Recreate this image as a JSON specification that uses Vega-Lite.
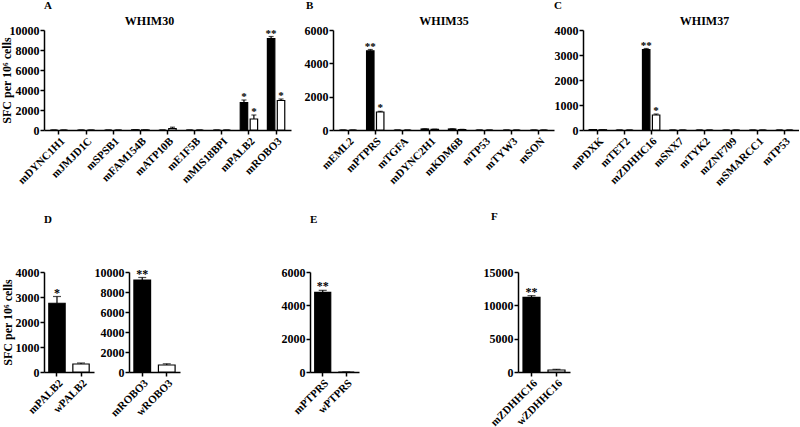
{
  "$schema": "https://vega.github.io/schema/vega-lite/v6.json",
  "background": "white",
  "padding": {"left": 0, "top": 0, "right": 0, "bottom": 0},
  "datasets": {
    "top": [
      {"p": "A", "g": "mDYNC1H1", "s": "black", "v": 0, "hi": 0, "sig": ""},
      {"p": "A", "g": "mDYNC1H1", "s": "white", "v": 0, "hi": 0, "sig": ""},
      {"p": "A", "g": "mJMJD1C", "s": "black", "v": 0, "hi": 0, "sig": ""},
      {"p": "A", "g": "mJMJD1C", "s": "white", "v": 0, "hi": 0, "sig": ""},
      {"p": "A", "g": "mSPSB1", "s": "black", "v": 0, "hi": 0, "sig": ""},
      {"p": "A", "g": "mSPSB1", "s": "white", "v": 0, "hi": 0, "sig": ""},
      {"p": "A", "g": "mFAM154B", "s": "black", "v": 20, "hi": 20, "sig": ""},
      {"p": "A", "g": "mFAM154B", "s": "white", "v": 10, "hi": 10, "sig": ""},
      {"p": "A", "g": "mATP10B", "s": "black", "v": 0, "hi": 0, "sig": ""},
      {"p": "A", "g": "mATP10B", "s": "white", "v": 150, "hi": 280, "sig": ""},
      {"p": "A", "g": "mE1F5B", "s": "black", "v": 0, "hi": 0, "sig": ""},
      {"p": "A", "g": "mE1F5B", "s": "white", "v": 0, "hi": 0, "sig": ""},
      {"p": "A", "g": "mMIS18BPI", "s": "black", "v": 0, "hi": 0, "sig": ""},
      {"p": "A", "g": "mMIS18BPI", "s": "white", "v": 0, "hi": 0, "sig": ""},
      {"p": "A", "g": "mPALB2", "s": "black", "v": 2750, "hi": 3000, "sig": "*"},
      {"p": "A", "g": "mPALB2", "s": "white", "v": 1100, "hi": 1500, "sig": "*"},
      {"p": "A", "g": "mROBO3", "s": "black", "v": 9150, "hi": 9350, "sig": "**"},
      {"p": "A", "g": "mROBO3", "s": "white", "v": 2950, "hi": 3100, "sig": "*"},
      {"p": "B", "g": "mEML2", "s": "black", "v": 0, "hi": 0, "sig": ""},
      {"p": "B", "g": "mEML2", "s": "white", "v": 0, "hi": 0, "sig": ""},
      {"p": "B", "g": "mPTPRS", "s": "black", "v": 4750, "hi": 4830, "sig": "**"},
      {"p": "B", "g": "mPTPRS", "s": "white", "v": 1080, "hi": 1120, "sig": "*"},
      {"p": "B", "g": "mTGFA", "s": "black", "v": 0, "hi": 0, "sig": ""},
      {"p": "B", "g": "mTGFA", "s": "white", "v": 0, "hi": 0, "sig": ""},
      {"p": "B", "g": "mDYNC2H1", "s": "black", "v": 60, "hi": 70, "sig": ""},
      {"p": "B", "g": "mDYNC2H1", "s": "white", "v": 40, "hi": 50, "sig": ""},
      {"p": "B", "g": "mKDM6B", "s": "black", "v": 60, "hi": 70, "sig": ""},
      {"p": "B", "g": "mKDM6B", "s": "white", "v": 30, "hi": 40, "sig": ""},
      {"p": "B", "g": "mTP53", "s": "black", "v": 0, "hi": 0, "sig": ""},
      {"p": "B", "g": "mTP53", "s": "white", "v": 0, "hi": 0, "sig": ""},
      {"p": "B", "g": "mTYW3", "s": "black", "v": 0, "hi": 0, "sig": ""},
      {"p": "B", "g": "mTYW3", "s": "white", "v": 0, "hi": 0, "sig": ""},
      {"p": "B", "g": "mSON", "s": "black", "v": 0, "hi": 0, "sig": ""},
      {"p": "B", "g": "mSON", "s": "white", "v": 0, "hi": 0, "sig": ""},
      {"p": "C", "g": "mPDXK", "s": "black", "v": 15, "hi": 15, "sig": ""},
      {"p": "C", "g": "mPDXK", "s": "white", "v": 10, "hi": 10, "sig": ""},
      {"p": "C", "g": "mTET2", "s": "black", "v": 0, "hi": 0, "sig": ""},
      {"p": "C", "g": "mTET2", "s": "white", "v": 0, "hi": 0, "sig": ""},
      {"p": "C", "g": "mZDHHC16", "s": "black", "v": 3220, "hi": 3260, "sig": "**"},
      {"p": "C", "g": "mZDHHC16", "s": "white", "v": 600, "hi": 640, "sig": "*"},
      {"p": "C", "g": "mSNX7", "s": "black", "v": 0, "hi": 0, "sig": ""},
      {"p": "C", "g": "mSNX7", "s": "white", "v": 0, "hi": 0, "sig": ""},
      {"p": "C", "g": "mTYK2", "s": "black", "v": 0, "hi": 0, "sig": ""},
      {"p": "C", "g": "mTYK2", "s": "white", "v": 0, "hi": 0, "sig": ""},
      {"p": "C", "g": "mZNF709", "s": "black", "v": 0, "hi": 0, "sig": ""},
      {"p": "C", "g": "mZNF709", "s": "white", "v": 0, "hi": 0, "sig": ""},
      {"p": "C", "g": "mSMARCC1", "s": "black", "v": 0, "hi": 0, "sig": ""},
      {"p": "C", "g": "mSMARCC1", "s": "white", "v": 0, "hi": 0, "sig": ""},
      {"p": "C", "g": "mTP53", "s": "black", "v": 0, "hi": 0, "sig": ""},
      {"p": "C", "g": "mTP53", "s": "white", "v": 0, "hi": 0, "sig": ""}
    ],
    "bot": [
      {"p": "Dl", "g": "mPALB2", "s": "black", "v": 2750, "hi": 3020, "sig": "*"},
      {"p": "Dl", "g": "wPALB2", "s": "white", "v": 320, "hi": 360, "sig": ""},
      {"p": "Dr", "g": "mROBO3", "s": "black", "v": 9200, "hi": 9450, "sig": "**"},
      {"p": "Dr", "g": "wROBO3", "s": "white", "v": 700, "hi": 820, "sig": ""},
      {"p": "E", "g": "mPTPRS", "s": "black", "v": 4780, "hi": 4900, "sig": "**"},
      {"p": "E", "g": "wPTPRS", "s": "white", "v": 0, "hi": 0, "sig": ""},
      {"p": "F", "g": "mZDHHC16", "s": "black", "v": 11200, "hi": 11450, "sig": "**"},
      {"p": "F", "g": "wZDHHC16", "s": "white", "v": 300, "hi": 400, "sig": ""}
    ]
  },
  "vconcat": [
    {
      "hconcat": [
        {
          "data": {"name": "top"},
          "width": 247, "height": 100,
          "title": {"text": "A", "offset": 3},
          "transform": [{"filter": "datum.p === 'A'"}],
          "layer": [
            {"mark": {"type": "bar", "stroke": "#000", "strokeWidth": 1.2},
             "encoding": {
               "x": {"field": "g", "type": "nominal", "sort": null, "title": null, "scale": {"paddingInner": 0.36, "paddingOuter": 0.23}, "axis": {"orient": "bottom"}},
               "xOffset": {"field": "s", "type": "nominal", "sort": ["black", "white"], "scale": {"paddingInner": 0.25}},
               "y": {"field": "v", "type": "quantitative", "title": "SFC per 10⁶ cells", "scale": {"domain": [0, 10000], "nice": false}, "axis": {"values": [0, 2000, 4000, 6000, 8000, 10000], "format": "d", "titlePadding": -4}},
               "fill": {"field": "s", "type": "nominal", "scale": {"domain": ["black", "white"], "range": ["#000000", "#ffffff"]}, "legend": null}
             }},
            {"mark": {"type": "rule", "color": "#000", "strokeWidth": 1.2},
             "encoding": {
               "x": {"field": "g", "type": "nominal", "sort": null, "axis": null},
               "xOffset": {"field": "s", "type": "nominal", "sort": ["black", "white"]},
               "y": {"field": "v", "type": "quantitative", "title": "SFC per 10⁶ cells", "axis": {"values": [0, 2000, 4000, 6000, 8000, 10000], "format": "d", "titlePadding": -4}},
               "y2": {"field": "hi"}
             }},
            {"mark": {"type": "tick", "color": "#000", "size": 5, "thickness": 1.2},
             "encoding": {
               "x": {"field": "g", "type": "nominal", "sort": null, "axis": null},
               "xOffset": {"field": "s", "type": "nominal", "sort": ["black", "white"]},
               "y": {"field": "hi", "type": "quantitative", "title": "SFC per 10⁶ cells", "axis": {"values": [0, 2000, 4000, 6000, 8000, 10000], "format": "d", "titlePadding": -4}}
             }},
            {"mark": {"type": "text", "color": "#000", "fontWeight": "bold", "fontSize": 11, "font": "Liberation Serif", "baseline": "alphabetic", "dy": 0},
             "encoding": {
               "x": {"field": "g", "type": "nominal", "sort": null, "axis": {"orient": "top", "title": "WHIM30", "labels": false, "ticks": false, "domain": false, "titleFontSize": 12, "titlePadding": 3, "titleX": 105}},
               "xOffset": {"field": "s", "type": "nominal", "sort": ["black", "white"]},
               "y": {"field": "hi", "type": "quantitative", "title": "SFC per 10⁶ cells", "axis": {"values": [0, 2000, 4000, 6000, 8000, 10000], "format": "d", "titlePadding": -4}},
               "text": {"field": "sig"}
             }}
          ],
          "resolve": {"axis": {"x": "independent"}}
        },
        {
          "hconcat": [
            {
              "data": {"name": "top"},
              "width": 221, "height": 100,
              "title": {"text": "B", "offset": 3, "dx": -27},
              "transform": [{"filter": "datum.p === 'B'"}],
              "layer": [
                {"mark": {"type": "bar", "stroke": "#000", "strokeWidth": 1.2},
                 "encoding": {
                   "x": {"field": "g", "type": "nominal", "sort": null, "title": null, "scale": {"paddingInner": 0.36, "paddingOuter": 0.23}, "axis": {"orient": "bottom"}},
                   "xOffset": {"field": "s", "type": "nominal", "sort": ["black", "white"], "scale": {"paddingInner": 0.25}},
                   "y": {"field": "v", "type": "quantitative", "title": null, "scale": {"domain": [0, 6000], "nice": false}, "axis": {"values": [0, 2000, 4000, 6000], "format": "d"}},
                   "fill": {"field": "s", "type": "nominal", "scale": {"domain": ["black", "white"], "range": ["#000000", "#ffffff"]}, "legend": null}
                 }},
                {"mark": {"type": "rule", "color": "#000", "strokeWidth": 1.2},
                 "encoding": {
                   "x": {"field": "g", "type": "nominal", "sort": null, "axis": null},
                   "xOffset": {"field": "s", "type": "nominal", "sort": ["black", "white"]},
                   "y": {"field": "v", "type": "quantitative", "title": null, "axis": {"values": [0, 2000, 4000, 6000], "format": "d"}},
                   "y2": {"field": "hi"}
                 }},
                {"mark": {"type": "tick", "color": "#000", "size": 5, "thickness": 1.2},
                 "encoding": {
                   "x": {"field": "g", "type": "nominal", "sort": null, "axis": null},
                   "xOffset": {"field": "s", "type": "nominal", "sort": ["black", "white"]},
                   "y": {"field": "hi", "type": "quantitative", "title": null, "axis": {"values": [0, 2000, 4000, 6000], "format": "d"}}
                 }},
                {"mark": {"type": "text", "color": "#000", "fontWeight": "bold", "fontSize": 11, "font": "Liberation Serif", "baseline": "alphabetic", "dy": 0},
                 "encoding": {
                   "x": {"field": "g", "type": "nominal", "sort": null, "axis": {"orient": "top", "title": "WHIM35", "labels": false, "ticks": false, "domain": false, "titleFontSize": 12, "titlePadding": 3}},
                   "xOffset": {"field": "s", "type": "nominal", "sort": ["black", "white"]},
                   "y": {"field": "hi", "type": "quantitative", "title": null, "axis": {"values": [0, 2000, 4000, 6000], "format": "d"}},
                   "text": {"field": "sig"}
                 }}
              ],
              "resolve": {"axis": {"x": "independent"}}
            },
            {
              "data": {"name": "top"},
              "width": 216, "height": 100,
              "title": {"text": "C", "offset": 3, "dx": -29},
              "transform": [{"filter": "datum.p === 'C'"}],
              "layer": [
                {"mark": {"type": "bar", "stroke": "#000", "strokeWidth": 1.2},
                 "encoding": {
                   "x": {"field": "g", "type": "nominal", "sort": null, "title": null, "scale": {"paddingInner": 0.36, "paddingOuter": 0.23}, "axis": {"orient": "bottom"}},
                   "xOffset": {"field": "s", "type": "nominal", "sort": ["black", "white"], "scale": {"paddingInner": 0.25}},
                   "y": {"field": "v", "type": "quantitative", "title": null, "scale": {"domain": [0, 4000], "nice": false}, "axis": {"values": [0, 1000, 2000, 3000, 4000], "format": "d"}},
                   "fill": {"field": "s", "type": "nominal", "scale": {"domain": ["black", "white"], "range": ["#000000", "#ffffff"]}, "legend": null}
                 }},
                {"mark": {"type": "rule", "color": "#000", "strokeWidth": 1.2},
                 "encoding": {
                   "x": {"field": "g", "type": "nominal", "sort": null, "axis": null},
                   "xOffset": {"field": "s", "type": "nominal", "sort": ["black", "white"]},
                   "y": {"field": "v", "type": "quantitative", "title": null, "axis": {"values": [0, 1000, 2000, 3000, 4000], "format": "d"}},
                   "y2": {"field": "hi"}
                 }},
                {"mark": {"type": "tick", "color": "#000", "size": 5, "thickness": 1.2},
                 "encoding": {
                   "x": {"field": "g", "type": "nominal", "sort": null, "axis": null},
                   "xOffset": {"field": "s", "type": "nominal", "sort": ["black", "white"]},
                   "y": {"field": "hi", "type": "quantitative", "title": null, "axis": {"values": [0, 1000, 2000, 3000, 4000], "format": "d"}}
                 }},
                {"mark": {"type": "text", "color": "#000", "fontWeight": "bold", "fontSize": 11, "font": "Liberation Serif", "baseline": "alphabetic", "dy": 0},
                 "encoding": {
                   "x": {"field": "g", "type": "nominal", "sort": null, "axis": {"orient": "top", "title": "WHIM37", "labels": false, "ticks": false, "domain": false, "titleFontSize": 12, "titlePadding": 3, "titleX": 121}},
                   "xOffset": {"field": "s", "type": "nominal", "sort": ["black", "white"]},
                   "y": {"field": "hi", "type": "quantitative", "title": null, "axis": {"values": [0, 1000, 2000, 3000, 4000], "format": "d"}},
                   "text": {"field": "sig"}
                 }}
              ],
              "resolve": {"axis": {"x": "independent"}}
            }
          ],
          "spacing": 0
        }
      ],
      "spacing": 13
    },
    {
      "hconcat": [
        {
          "hconcat": [
            {
              "data": {"name": "bot"},
              "width": 50, "height": 100,
              "title": {"text": "D", "offset": 41},
              "transform": [{"filter": "datum.p === 'Dl'"}],
              "layer": [
                {"mark": {"type": "bar", "stroke": "#000", "strokeWidth": 1.2},
                 "encoding": {
                   "x": {"field": "g", "type": "nominal", "sort": null, "title": null, "scale": {"paddingInner": 0.32, "paddingOuter": 0.2}},
                   "y": {"field": "v", "type": "quantitative", "title": "SFC per 10⁶ cells", "scale": {"domain": [0, 4000], "nice": false}, "axis": {"values": [0, 1000, 2000, 3000, 4000], "format": "d", "titlePadding": 1}},
                   "fill": {"field": "s", "type": "nominal", "scale": {"domain": ["black", "white"], "range": ["#000000", "#ffffff"]}, "legend": null}
                 }},
                {"mark": {"type": "rule", "color": "#000", "strokeWidth": 1.2},
                 "encoding": {
                   "x": {"field": "g", "type": "nominal", "sort": null},
                   "y": {"field": "v", "type": "quantitative", "title": "SFC per 10⁶ cells", "axis": {"values": [0, 1000, 2000, 3000, 4000], "format": "d", "titlePadding": 1}},
                   "y2": {"field": "hi"}
                 }},
                {"mark": {"type": "tick", "color": "#000", "size": 8, "thickness": 1.2},
                 "encoding": {
                   "x": {"field": "g", "type": "nominal", "sort": null},
                   "y": {"field": "hi", "type": "quantitative", "title": "SFC per 10⁶ cells", "axis": {"values": [0, 1000, 2000, 3000, 4000], "format": "d", "titlePadding": 1}}
                 }},
                {"mark": {"type": "text", "color": "#000", "fontWeight": "bold", "fontSize": 12, "font": "Liberation Serif", "baseline": "alphabetic", "dy": 0},
                 "encoding": {
                   "x": {"field": "g", "type": "nominal", "sort": null},
                   "y": {"field": "hi", "type": "quantitative", "title": "SFC per 10⁶ cells", "axis": {"values": [0, 1000, 2000, 3000, 4000], "format": "d", "titlePadding": 1}},
                   "text": {"field": "sig"}
                 }}
              ]
            },
            {
              "data": {"name": "bot"},
              "width": 51, "height": 100,
              "title": {"text": " ", "offset": 41},
              "transform": [{"filter": "datum.p === 'Dr'"}],
              "layer": [
                {"mark": {"type": "bar", "stroke": "#000", "strokeWidth": 1.2},
                 "encoding": {
                   "x": {"field": "g", "type": "nominal", "sort": null, "title": null, "scale": {"paddingInner": 0.32, "paddingOuter": 0.2}},
                   "y": {"field": "v", "type": "quantitative", "title": null, "scale": {"domain": [0, 10000], "nice": false}, "axis": {"values": [0, 2000, 4000, 6000, 8000, 10000], "format": "d"}},
                   "fill": {"field": "s", "type": "nominal", "scale": {"domain": ["black", "white"], "range": ["#000000", "#ffffff"]}, "legend": null}
                 }},
                {"mark": {"type": "rule", "color": "#000", "strokeWidth": 1.2},
                 "encoding": {
                   "x": {"field": "g", "type": "nominal", "sort": null},
                   "y": {"field": "v", "type": "quantitative", "title": null, "axis": {"values": [0, 2000, 4000, 6000, 8000, 10000], "format": "d"}},
                   "y2": {"field": "hi"}
                 }},
                {"mark": {"type": "tick", "color": "#000", "size": 8, "thickness": 1.2},
                 "encoding": {
                   "x": {"field": "g", "type": "nominal", "sort": null},
                   "y": {"field": "hi", "type": "quantitative", "title": null, "axis": {"values": [0, 2000, 4000, 6000, 8000, 10000], "format": "d"}}
                 }},
                {"mark": {"type": "text", "color": "#000", "fontWeight": "bold", "fontSize": 12, "font": "Liberation Serif", "baseline": "alphabetic", "dy": 0},
                 "encoding": {
                   "x": {"field": "g", "type": "nominal", "sort": null},
                   "y": {"field": "hi", "type": "quantitative", "title": null, "axis": {"values": [0, 2000, 4000, 6000, 8000, 10000], "format": "d"}},
                   "text": {"field": "sig"}
                 }}
              ]
            }
          ],
          "spacing": 0
        },
        {
          "hconcat": [
            {
              "data": {"name": "bot"},
              "width": 49, "height": 100,
              "title": {"text": "E", "offset": 41, "dx": 0},
              "transform": [{"filter": "datum.p === 'E'"}],
              "layer": [
                {"mark": {"type": "bar", "stroke": "#000", "strokeWidth": 1.2},
                 "encoding": {
                   "x": {"field": "g", "type": "nominal", "sort": null, "title": null, "scale": {"paddingInner": 0.32, "paddingOuter": 0.2}},
                   "y": {"field": "v", "type": "quantitative", "title": null, "scale": {"domain": [0, 6000], "nice": false}, "axis": {"values": [0, 2000, 4000, 6000], "format": "d"}},
                   "fill": {"field": "s", "type": "nominal", "scale": {"domain": ["black", "white"], "range": ["#000000", "#ffffff"]}, "legend": null}
                 }},
                {"mark": {"type": "rule", "color": "#000", "strokeWidth": 1.2},
                 "encoding": {
                   "x": {"field": "g", "type": "nominal", "sort": null},
                   "y": {"field": "v", "type": "quantitative", "title": null, "axis": {"values": [0, 2000, 4000, 6000], "format": "d"}},
                   "y2": {"field": "hi"}
                 }},
                {"mark": {"type": "tick", "color": "#000", "size": 8, "thickness": 1.2},
                 "encoding": {
                   "x": {"field": "g", "type": "nominal", "sort": null},
                   "y": {"field": "hi", "type": "quantitative", "title": null, "axis": {"values": [0, 2000, 4000, 6000], "format": "d"}}
                 }},
                {"mark": {"type": "text", "color": "#000", "fontWeight": "bold", "fontSize": 12, "font": "Liberation Serif", "baseline": "alphabetic", "dy": 0},
                 "encoding": {
                   "x": {"field": "g", "type": "nominal", "sort": null},
                   "y": {"field": "hi", "type": "quantitative", "title": null, "axis": {"values": [0, 2000, 4000, 6000], "format": "d"}},
                   "text": {"field": "sig"}
                 }}
              ]
            },
            {
              "data": {"name": "bot"},
              "width": 52, "height": 100,
              "title": {"text": "F", "offset": 44, "dx": -27},
              "transform": [{"filter": "datum.p === 'F'"}],
              "layer": [
                {"mark": {"type": "bar", "stroke": "#000", "strokeWidth": 1.2},
                 "encoding": {
                   "x": {"field": "g", "type": "nominal", "sort": null, "title": null, "scale": {"paddingInner": 0.32, "paddingOuter": 0.2}},
                   "y": {"field": "v", "type": "quantitative", "title": null, "scale": {"domain": [0, 15000], "nice": false}, "axis": {"values": [0, 5000, 10000, 15000], "format": "d"}},
                   "fill": {"field": "s", "type": "nominal", "scale": {"domain": ["black", "white"], "range": ["#000000", "#ffffff"]}, "legend": null}
                 }},
                {"mark": {"type": "rule", "color": "#000", "strokeWidth": 1.2},
                 "encoding": {
                   "x": {"field": "g", "type": "nominal", "sort": null},
                   "y": {"field": "v", "type": "quantitative", "title": null, "axis": {"values": [0, 5000, 10000, 15000], "format": "d"}},
                   "y2": {"field": "hi"}
                 }},
                {"mark": {"type": "tick", "color": "#000", "size": 8, "thickness": 1.2},
                 "encoding": {
                   "x": {"field": "g", "type": "nominal", "sort": null},
                   "y": {"field": "hi", "type": "quantitative", "title": null, "axis": {"values": [0, 5000, 10000, 15000], "format": "d"}}
                 }},
                {"mark": {"type": "text", "color": "#000", "fontWeight": "bold", "fontSize": 12, "font": "Liberation Serif", "baseline": "alphabetic", "dy": 0},
                 "encoding": {
                   "x": {"field": "g", "type": "nominal", "sort": null},
                   "y": {"field": "hi", "type": "quantitative", "title": null, "axis": {"values": [0, 5000, 10000, 15000], "format": "d"}},
                   "text": {"field": "sig"}
                 }}
              ]
            }
          ],
          "spacing": 124
        }
      ],
      "spacing": 101
    }
  ],
  "spacing": 23,
  "config": {
    "font": "Liberation Serif",
    "view": {"stroke": null},
    "axis": {"labelFont": "Liberation Serif", "labelFontWeight": "bold", "labelColor": "#000", "labelFontSize": 12, "domainColor": "#000", "domainWidth": 1.5, "tickColor": "#000", "tickWidth": 1.5, "tickSize": 4, "grid": false, "titleFont": "Liberation Serif", "titleFontWeight": "bold", "titleColor": "#000", "titleFontSize": 12, "labelPadding": 1, "labelOverlap": false},
    "axisX": {"labelAngle": -45, "labelFontSize": 11},
    "title": {"font": "Liberation Serif", "fontWeight": "bold", "fontSize": 11, "color": "#000", "anchor": "start", "frame": "group"}
  }
}
